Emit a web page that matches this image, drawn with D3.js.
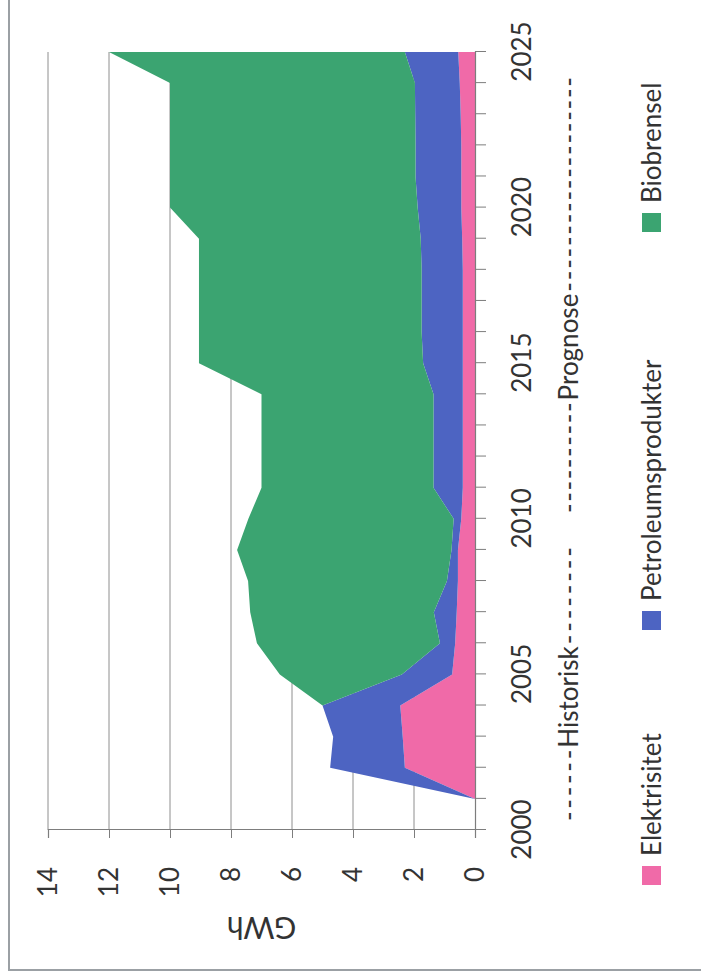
<!DOCTYPE html>
<html>
<head>
<meta charset="utf-8">
<script src="https://cdn.jsdelivr.net/npm/d3@7/dist/d3.min.js"></script>
<style>
html, body { margin: 0; padding: 0; background: #fff; }
text { font-family: Lato, "Open Sans", sans-serif; fill: #333; }
</style>
</head>
<body>
<svg id="chart" width="701" height="979"></svg>
<script>
var years = [2001, 2002, 2003, 2004, 2005, 2006, 2007, 2008, 2009, 2010, 2011, 2012, 2013,
	2014, 2015, 2016, 2017, 2018, 2019, 2020, 2021, 2022, 2023, 2024, 2025];
var elektrisitet = [0, 2.3, 2.37, 2.45, 0.75, 0.65, 0.6, 0.56, 0.56, 0.45, 0.4, 0.4, 0.4,
	0.4, 0.4, 0.4, 0.4, 0.4, 0.42, 0.45, 0.45, 0.45, 0.47, 0.5, 0.55];
var petroleum = [0, 2.45, 2.28, 2.55, 1.65, 0.5, 0.75, 0.36, 0.21, 0.25, 0.96, 0.96, 0.96,
	0.96, 1.3, 1.35, 1.35, 1.35, 1.36, 1.43, 1.5, 1.5, 1.49, 1.47, 1.75];
var biobrensel = [0, 0, 0, 0, 4.0, 6.0, 6.02, 6.52, 7.03, 6.73, 5.64, 5.64, 5.64,
	5.64, 7.35, 7.3, 7.3, 7.3, 7.27, 8.12, 8.05, 8.05, 8.04, 8.03, 9.7];

var series_keys = ["elektrisitet", "petroleum", "biobrensel"];
var series_names = ["Elektrisitet", "Petroleumsprodukter", "Biobrensel"];
var series_colors = ["#f06aa8", "#4d64c2", "#3ba471"];
var value_ticks = [0, 2, 4, 6, 8, 10, 12, 14];
var year_ticks = d3.range(2000, 2026);
var year_labels = [2000, 2005, 2010, 2015, 2020, 2025];

var width = 778, height = 427;

var rows = years.map(function(y, i) {
	return { year: y, elektrisitet: elektrisitet[i], petroleum: petroleum[i], biobrensel: biobrensel[i] };
});

var svg = d3.select("#chart");

// the scan is turned a quarter turn, so draw the chart upright and rotate it
var g = svg.append("g").attr("transform", "translate(48,830) rotate(-90)");

var x = d3.scaleLinear().domain([2000, 2025]).range([0, width]);
var y = d3.scaleLinear().domain([0, 14]).range([height, 0]);

// frame of the chart box
g.append("rect")
	.attr("x", -140).attr("y", -39)
	.attr("width", 1200).attr("height", 1200)
	.attr("fill", "none").attr("stroke", "#9ba0a4").attr("stroke-width", 2);

g.append("g").selectAll("line")
	.data(value_ticks.slice(1))
	.enter().append("line")
	.attr("x1", 0).attr("x2", width)
	.attr("y1", function(d) { return y(d); })
	.attr("y2", function(d) { return y(d); })
	.attr("stroke", "#8e8e8e").attr("stroke-width", 1);

var stack = d3.stack().keys(series_keys);
var layers = stack(rows);

var area = d3.area()
	.x(function(d) { return x(d.data.year); })
	.y0(function(d) { return y(d[0]); })
	.y1(function(d) { return y(d[1]); });

g.append("g").selectAll("path")
	.data(layers)
	.enter().append("path")
	.attr("d", area)
	.attr("fill", function(d, i) { return series_colors[i]; });

var x_axis = d3.axisBottom(x)
	.tickValues(year_ticks)
	.tickSize(11)
	.tickPadding(27)
	.tickFormat(function(d) { return year_labels.indexOf(d) >= 0 ? d : ""; });

var y_axis = d3.axisLeft(y)
	.tickValues(value_ticks)
	.tickSize(8)
	.tickPadding(29)
	.tickFormat(d3.format("d"));

var xg = g.append("g").attr("transform", "translate(0," + height + ")").call(x_axis);
var yg = g.append("g").call(y_axis);

[xg, yg].forEach(function(a) {
	a.select(".domain").attr("stroke", "#7d7d7d").attr("stroke-width", 1.2);
	a.selectAll(".tick line").attr("stroke", "#7d7d7d");
	a.selectAll("text").style("font-size", "26px").attr("fill", "#333");
});

g.append("text")
	.attr("transform", "translate(-97," + (height / 2) + ") rotate(-90)")
	.attr("text-anchor", "middle")
	.attr("dy", "0.35em")
	.style("font-size", "30px")
	.text("GWh");

// Historisk / Prognose note with dashed leaders
var note_y = 530;
function dashes(x0, x1) {
	var n = Math.max(1, Math.round((x1 - x0) / 11.5));
	g.append("text")
		.attr("x", x0).attr("y", note_y)
		.attr("textLength", x1 - x0)
		.attr("lengthAdjust", "spacing")
		.style("font-size", "26px")
		.text(d3.range(n).map(function() { return "-"; }).join(""));
}
function note(label, cx, x0, x1) {
	var t = g.append("text")
		.attr("x", cx).attr("y", note_y)
		.attr("text-anchor", "middle")
		.style("font-size", "26px")
		.text(label);
	var w = t.node().getComputedTextLength();
	dashes(x0, cx - w / 2 - 2);
	dashes(cx + w / 2 + 2, x1);
}
note("Historisk", 133, 9, 283);
note("Prognose", 483, 317, 753);

// legend
var legend_x = [-55, 200, 598];
var legend = g.append("g").selectAll("g")
	.data(series_names)
	.enter().append("g")
	.attr("transform", function(d, i) { return "translate(" + legend_x[i] + ",604)"; });

legend.append("rect")
	.attr("x", 0).attr("y", -10)
	.attr("width", 19).attr("height", 19)
	.attr("fill", function(d, i) { return series_colors[i]; });

legend.append("text")
	.attr("x", 29).attr("dy", "0.35em")
	.style("font-size", "26px")
	.text(function(d) { return d; });
</script>
</body>
</html>
